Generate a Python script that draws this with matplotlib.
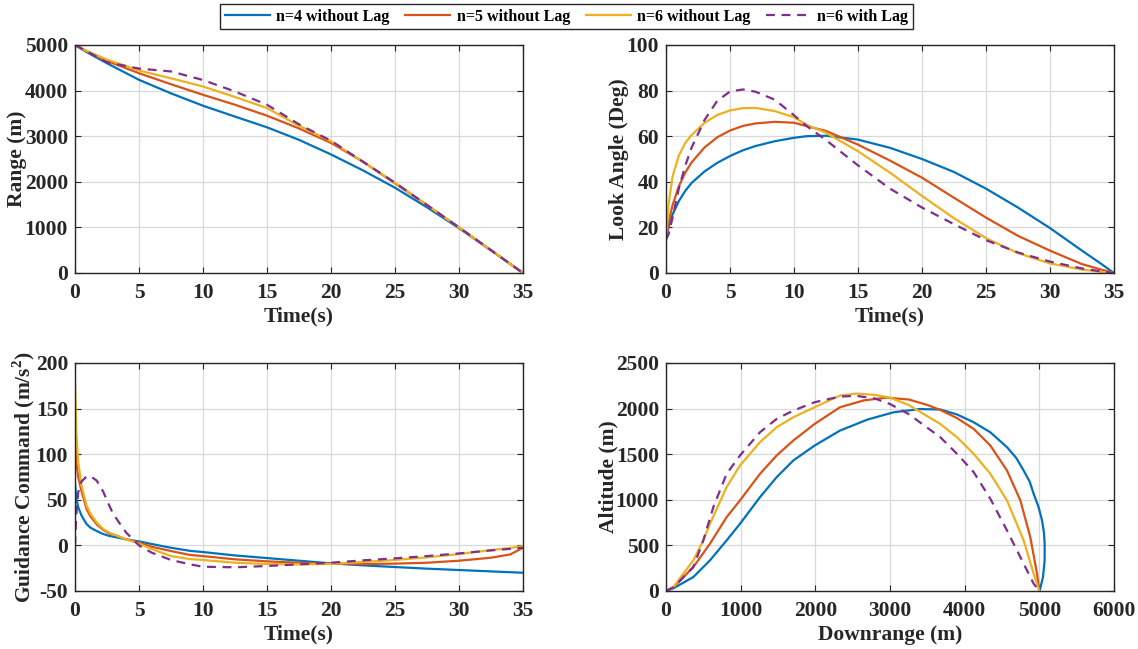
import matplotlib
matplotlib.use('Agg')
import matplotlib.pyplot as plt

plt.rcParams['font.family'] = ['Liberation Serif', 'DejaVu Serif']
plt.rcParams['font.weight'] = 'bold'
plt.rcParams['mathtext.fontset'] = 'custom'
plt.rcParams['mathtext.rm'] = 'Liberation Serif'
plt.rcParams['mathtext.bf'] = 'Liberation Serif:bold'

labels = ['n=4 without Lag', 'n=5 without Lag', 'n=6 without Lag', 'n=6 with Lag']
colors = ['#0072BD', '#D95319', '#EDB120', '#7E2F8E']
styles = ['-', '-', '-', '--']

# Range vs time
t_rng = [0, 1, 2.5, 5, 7.5, 10, 12.5, 15, 17.5, 20, 22.5, 25, 27.5, 30, 32.5, 35]
rng_n4 = [5000, 4830, 4600, 4236, 3940, 3668, 3430, 3195, 2920, 2600, 2250, 1870, 1440, 983, 495, 0]
rng_n5 = [5000, 4850, 4650, 4381, 4140, 3908, 3690, 3450, 3170, 2853, 2440, 1965, 1490, 1000, 500, 0]
rng_n6 = [5000, 4860, 4680, 4440, 4270, 4090, 3860, 3617, 3230, 2890, 2440, 1980, 1490, 1000, 500, 0]
rng_lag = [5000, 4850, 4620, 4483, 4420, 4232, 3980, 3690, 3260, 2900, 2440, 1980, 1490, 1000, 500, 0]

# Look angle vs time
t_look = [0, 0.2, 0.5, 1, 1.5, 2, 3, 4, 5, 6, 7, 8.5, 10, 11, 12.5, 15, 17.5, 20,
          22.5, 25, 27.5, 30, 32.5, 34, 35]
look_n4 = [15, 20, 25.5, 31.5, 36, 39.5, 44.5, 48.3, 51.3, 53.8, 55.7, 57.8, 59.3, 60, 60.2,
           58.5, 54.9, 50, 44.3, 37, 28.7, 19.7, 9.8, 4, 0]
look_n5 = [15, 22, 29.5, 38, 44, 48.5, 55, 59.5, 62.5, 64.5, 65.6, 66.3, 65.9, 64.4, 62.3,
           56.3, 49.3, 41.8, 33, 24.3, 16.3, 9.8, 3.9, 1.5, 0]
look_n6 = [15, 30, 42, 51.5, 57, 60.5, 65.8, 69.3, 71.3, 72.3, 72.4, 71, 68.3, 65, 61.5,
           53.4, 44, 33.8, 24, 15.3, 8.7, 4.2, 1.5, 0.5, 0]
look_lag = [14.6, 17, 24, 37, 47, 55, 67, 75.5, 79.6, 80.5, 79.5, 76, 69.2, 64.4, 58.3,
            47.2, 37, 28.7, 21.4, 14.4, 9, 5, 2, 0.7, 0]

# Guidance command vs time
t_cmd = [0, 0.1, 0.25, 0.5, 0.9, 1.2, 1.7, 2.2, 2.7, 3, 4, 5, 6, 7.5, 9, 10, 12.5, 15, 17.5,
         20, 22.5, 25, 27.5, 30, 32.5, 34, 35]
cmd_n4 = [68, 52, 42, 33, 23.5, 19.5, 15.7, 12.5, 10.3, 9.5, 6.6, 4.4, 1.5, -2.6, -6, -7.3,
          -11, -13.9, -16.8, -19.7, -21.9, -23.7, -25.5, -27, -28.5, -29.4, -30]
cmd_n5 = [118, 92, 75, 60, 40, 32, 23, 17, 13, 12, 6.6, 3, -1.5, -6.2, -10.5, -11.7, -15.3,
          -17.5, -19, -20, -20.4, -20, -19, -16.8, -13.5, -9.9, -2.6]
cmd_n6 = [180, 125, 92, 66, 44, 35, 25, 18, 14, 12, 6.6, 2, -4, -11.7, -15, -16, -19, -20.4,
          -20.8, -20.4, -18.2, -16, -13.1, -9.5, -5.1, -2.8, -0.7]
cmd_lag = [0, 33, 58, 70, 75.5, 76, 71, 59, 43, 34, 14, 0, -8, -16, -20.8, -23.4, -24, -22.6,
           -20.8, -19, -16.4, -14.2, -11.7, -8.8, -5.5, -3.8, -2.6]
cmd_ticks = [-50, 0, 50, 100, 150, 200]

# Altitude vs downrange
dr_n4 = [0, 100, 366, 589, 812, 991, 1259, 1482, 1705, 1991, 2330, 2700, 3050, 3400, 3674,
         3900, 4121, 4344, 4567, 4690, 4790, 4870, 4924, 4990, 5036, 5062, 5071, 5071, 5049, 5004]
alt_n4 = [0, 30, 153, 336, 555, 737, 1029, 1248, 1431, 1595, 1759, 1880, 1960, 1995, 1990,
          1935, 1850, 1740, 1577, 1460, 1321, 1200, 1066, 920, 774, 640, 518, 336, 153, 0]
dr_n5 = [0, 100, 366, 589, 812, 991, 1259, 1482, 1705, 1991, 2330, 2650, 2950, 3250, 3500,
         3674, 3900, 4121, 4344, 4567, 4746, 4879, 4969, 5000]
alt_n5 = [0, 40, 263, 518, 810, 993, 1285, 1486, 1650, 1832, 2015, 2090, 2120, 2100, 2040,
          1985, 1895, 1777, 1595, 1321, 993, 591, 190, 0]
dr_n6 = [0, 100, 366, 500, 589, 812, 991, 1259, 1482, 1705, 1991, 2330, 2550, 2800, 3000,
         3250, 3500, 3674, 3897, 4121, 4344, 4567, 4790, 4924, 5000]
alt_n6 = [0, 45, 336, 555, 737, 1139, 1376, 1632, 1796, 1905, 2015, 2143, 2165, 2150, 2120,
          2040, 1916, 1832, 1686, 1504, 1285, 993, 555, 190, 0]
dr_lag = [0, 100, 366, 500, 634, 812, 991, 1259, 1482, 1705, 1991, 2330, 2550, 2800, 3000,
          3250, 3500, 3674, 3897, 4121, 4344, 4567, 4790, 4924, 5000]
alt_lag = [0, 40, 263, 555, 920, 1285, 1486, 1741, 1887, 1978, 2070, 2132, 2140, 2110, 2050,
           1940, 1790, 1686, 1504, 1303, 1011, 664, 299, 80, 0]

fig = plt.figure(figsize=(11.38, 6.49), dpi=100)
W, H = 1138, 649


def make_ax(left, top, right, bottom):
    return fig.add_axes([left / W, 1 - bottom / H, (right - left) / W, (bottom - top) / H])


ax1 = make_ax(75, 45, 523, 273)
ax2 = make_ax(666, 45, 1114, 273)
ax3 = make_ax(75, 363, 523, 591)
ax4 = make_ax(666, 363, 1114, 591)

series = [
    (ax1, [(t_rng, rng_n4), (t_rng, rng_n5), (t_rng, rng_n6), (t_rng, rng_lag)]),
    (ax2, [(t_look, look_n4), (t_look, look_n5), (t_look, look_n6), (t_look, look_lag)]),
    (ax3, [(t_cmd, cmd_n4), (t_cmd, cmd_n5), (t_cmd, cmd_n6), (t_cmd, cmd_lag)]),
    (ax4, [(dr_n4, alt_n4), (dr_n5, alt_n5), (dr_n6, alt_n6), (dr_lag, alt_lag)]),
]

lines = []
for ax, data in series:
    for (x, y), c, ls, lab in zip(data, colors, styles, labels):
        if ls == '--':
            ln, = ax.plot(x, y, color=c, linewidth=1.6, label=lab, dashes=(4, 3))
        else:
            ln, = ax.plot(x, y, color=c, linewidth=1.6, label=lab)
        if ax is ax1:
            lines.append(ln)

ax1.set_xlim(0, 35)
ax1.set_ylim(0, 5000)
ax1.set_yticks(range(0, 5001, 1000))
ax1.set_ylabel('Range (m)')
ax1.set_xlabel('Time(s)')

ax2.set_xlim(0, 35)
ax2.set_ylim(0, 100)
ax2.set_yticks(range(0, 101, 20))
ax2.set_ylabel('Look Angle (Deg)')
ax2.set_xlabel('Time(s)')

ax3.set_xlim(0, 35)
ax3.set_ylim(-50, 200)
ax3.set_yticks(cmd_ticks)
ax3.set_yticklabels([str(v) for v in cmd_ticks])
ax3.set_ylabel(r'Guidance Command (m/s$^{\mathbf{2}}$)')
ax3.set_xlabel('Time(s)')

ax4.set_xlim(0, 6000)
ax4.set_ylim(0, 2500)
ax4.set_xticks(range(0, 6001, 1000))
ax4.set_yticks(range(0, 2501, 500))
ax4.set_ylabel('Altitude (m)')
ax4.set_xlabel('Downrange (m)')

for ax in (ax1, ax2, ax3):
    ax.set_xticks(range(0, 36, 5))

for ax in (ax1, ax2, ax3, ax4):
    ax.grid(True, color='#d9d9d9', linewidth=0.9)
    ax.set_axisbelow(True)
    ax.tick_params(direction='in', top=True, right=True, length=4, labelsize=15.5,
                   colors='#262626')
    ax.tick_params(axis='x', pad=7)
    ax.tick_params(axis='y', pad=5)
    for lbl in ax.get_xticklabels() + ax.get_yticklabels():
        lbl.set_fontweight('bold')
    for lab in (ax.xaxis.label, ax.yaxis.label):
        lab.set_size(15.5)
        lab.set_weight('bold')
        lab.set_color('#262626')
    ax.xaxis.labelpad = 3
    ax.yaxis.labelpad = -2
    for sp in ax.spines.values():
        sp.set_color('#262626')
        sp.set_linewidth(1.0)

ax3.yaxis.labelpad = -1

fig.legend(lines, labels, loc='upper center', bbox_to_anchor=(0.498, 0.994), ncol=4,
           frameon=True, fancybox=False, edgecolor='#262626', framealpha=1,
           handlelength=2.8, columnspacing=1.0, handletextpad=0.4, borderpad=0.3,
           borderaxespad=0, prop={'weight': 'bold', 'size': 11.5})

fig.savefig('out.png', dpi=100)
